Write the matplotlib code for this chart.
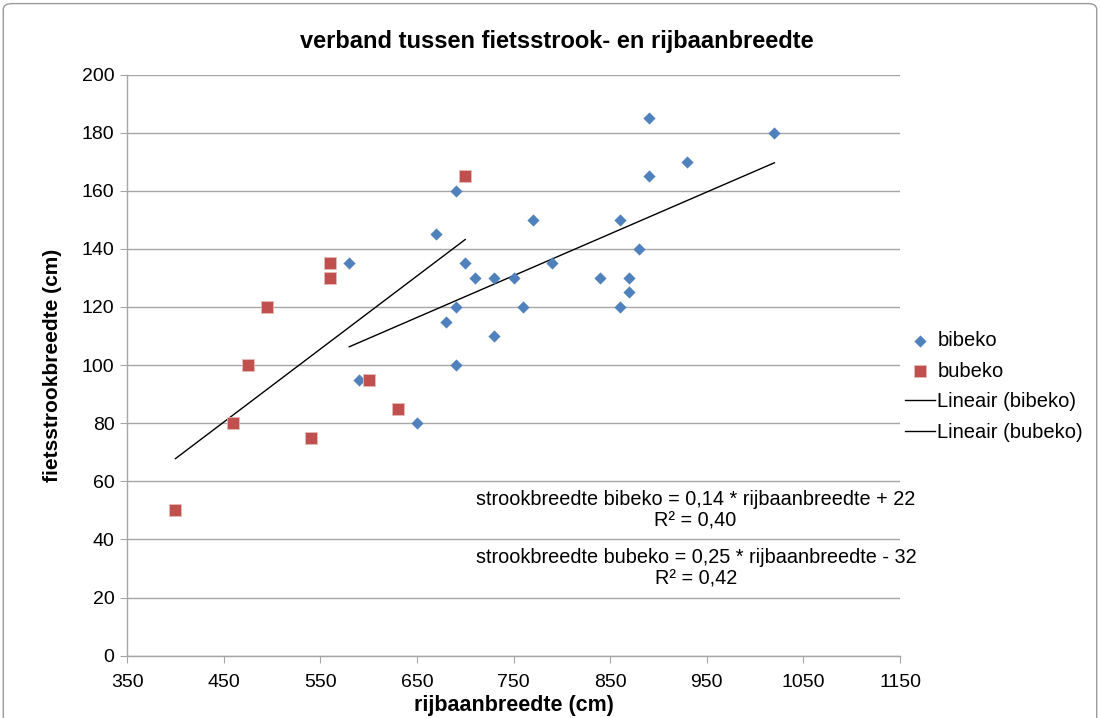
import numpy as np
import matplotlib
matplotlib.use("Agg")
import matplotlib.pyplot as plt
from matplotlib.patches import FancyBboxPatch

plt.rcParams['font.family'] = ['Liberation Sans', 'DejaVu Sans']

# data
bibeko_x = [580, 590, 650, 670, 690, 690, 680, 690, 700, 710, 730, 730, 750,
            760, 770, 790, 840, 860, 860, 870, 870, 880, 890, 890, 930, 1020]
bibeko_y = [135, 95, 80, 145, 160, 120, 115, 100, 135, 130, 130, 110, 130,
            120, 150, 135, 130, 150, 120, 130, 125, 140, 185, 165, 170, 180]
bubeko_x = [400, 460, 475, 495, 540, 560, 560, 600, 630, 700]
bubeko_y = [50, 80, 100, 120, 75, 135, 130, 95, 85, 165]

x_ticks = [350, 450, 550, 650, 750, 850, 950, 1050, 1150]
y_ticks = [0, 20, 40, 60, 80, 100, 120, 140, 160, 180, 200]

eq_bibeko = "strookbreedte bibeko = 0,14 * rijbaanbreedte + 22\nR² = 0,40"
eq_bubeko = "strookbreedte bubeko = 0,25 * rijbaanbreedte - 32\nR² = 0,42"

blue = '#4F81BD'
red = '#C0504D'
grid = '#A6A6A6'

fig = plt.figure(figsize=(11, 7.18), dpi=100)
border = FancyBboxPatch((0.003, -0.05), 0.994, 1.045, boxstyle="round,pad=0,rounding_size=0.008",
                        transform=fig.transFigure, fill=False, edgecolor='#9A9A9A', linewidth=1.0)
fig.patches.append(border)

ax = fig.add_axes([0.1155, 0.0868, 0.7027, 0.8094])

ax.scatter(bibeko_x, bibeko_y, marker='D', s=6.2**2, color=blue, linewidths=0, zorder=3, label='bibeko')
ax.scatter(bubeko_x, bubeko_y, marker='s', s=8**2, color=red, edgecolors='#E6B9B8', linewidths=0.6,
           zorder=3, label='bubeko')

# linear trend lines from the data
for xs, ys, name in [(bibeko_x, bibeko_y, 'Lineair (bibeko)'), (bubeko_x, bubeko_y, 'Lineair (bubeko)')]:
    m, b = np.polyfit(xs, ys, 1)
    lx = np.array([min(xs), max(xs)])
    ax.plot(lx, m * lx + b, color='black', linewidth=1.0, zorder=2, label=name)

ax.set_xlim(350, 1150)
ax.set_ylim(0, 200)
ax.set_xticks(x_ticks)
ax.set_yticks(y_ticks)
ax.tick_params(axis='both', direction='out', length=5, color=grid, labelsize=14, pad=4)
ax.tick_params(axis='x', pad=8)
ax.yaxis.grid(True, color=grid, linewidth=1.0)
ax.set_axisbelow(True)
for s in ['top', 'right']:
    ax.spines[s].set_visible(False)
for s in ['left', 'bottom']:
    ax.spines[s].set_color(grid)
    ax.spines[s].set_linewidth(1.0)

ax.set_xlabel('rijbaanbreedte (cm)', fontsize=15.5, fontweight='bold', labelpad=3)
ax.set_ylabel('fietsstrookbreedte (cm)', fontsize=15, fontweight='bold', labelpad=14)
fig.text(0.506, 0.942, 'verband tussen fietsstrook- en rijbaanbreedte', ha='center', va='center',
         fontsize=17, fontweight='bold')

ax.text(938, 50, eq_bibeko, ha='center', va='center', fontsize=14.3, linespacing=1.15)
ax.text(939, 30, eq_bubeko, ha='center', va='center', fontsize=14.3, linespacing=1.15)

ax.legend(loc='upper left', bbox_to_anchor=(0.8155, 0.55), bbox_transform=fig.transFigure,
          frameon=False, fontsize=14.5, handlelength=1.5, handletextpad=0.1, labelspacing=0.57,
          borderpad=0.4, borderaxespad=0)

fig.savefig('out.png', dpi=100)
